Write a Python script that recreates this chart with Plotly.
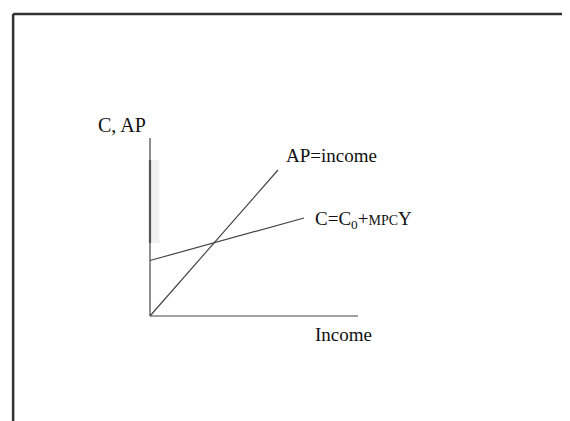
import plotly.graph_objects as go

# Economic diagram data (abstract units; origin at the axes corner)
income_axis_x = [0, 10]
income_axis_y = [0, 0]
vert_axis_x = [0, 0]
vert_axis_y = [0, 8.56]
shade_y = [3.51, 7.5]          # darker/shaded part of the vertical axis
ap_x = [0, 6.154]              # AP = income
ap_y = [0, 7.019]
c_x = [0, 7.404]               # C = C0 + MPC*Y
c_y = [2.668, 4.712]

labels_text = ["C, AP", "AP=income",
               "C=C<sub>0</sub>+<span style='font-size:14px'>MPC</span>Y",
               "Income"]
labels_x = [-1.35, 6.44, 7.84, 7.84]
labels_y = [9.18, 7.74, 4.615, -0.913]
labels_anchor = ["center", "left", "left", "left"]
labels_size = [20, 19, 19, 19]

W, H = 570, 421
ox, oy, s = 142, 308, 20.8
xr = [-ox / s, (W - ox) / s]
yr = [(oy - H) / s, oy / s]

line_col = "#444444"
fig = go.Figure()

# light gray band beside the vertical axis
fig.add_trace(go.Scatter(x=[0, 0.45, 0.45, 0, 0],
                         y=[shade_y[0], shade_y[0], shade_y[1], shade_y[1], shade_y[0]],
                         fill="toself", fillcolor="rgba(200,200,200,0.25)",
                         line=dict(width=0), mode="lines", hoverinfo="skip"))
fig.add_trace(go.Scatter(x=vert_axis_x, y=vert_axis_y, mode="lines",
                         line=dict(color=line_col, width=1.2)))
fig.add_trace(go.Scatter(x=[0, 0], y=shade_y, mode="lines",
                         line=dict(color="#555555", width=2.2)))
fig.add_trace(go.Scatter(x=income_axis_x, y=income_axis_y, mode="lines",
                         line=dict(color=line_col, width=1.2)))
fig.add_trace(go.Scatter(x=ap_x, y=ap_y, mode="lines",
                         line=dict(color=line_col, width=1.2)))
fig.add_trace(go.Scatter(x=c_x, y=c_y, mode="lines",
                         line=dict(color=line_col, width=1.2)))

for t, x, y, a, sz in zip(labels_text, labels_x, labels_y, labels_anchor, labels_size):
    fig.add_annotation(x=x, y=y, text=t, showarrow=False, xanchor=a, yanchor="middle",
                       font=dict(family="Liberation Serif", size=sz, color="#111111"))

# slide frame
fig.add_shape(type="line", xref="paper", yref="paper", x0=0.009, x1=1, y0=1 - 6 / H, y1=1 - 6 / H,
              line=dict(color="#333333", width=2.5))
fig.add_shape(type="line", xref="paper", yref="paper", x0=0.009, x1=0.009, y0=0, y1=1 - 6 / H,
              line=dict(color="#333333", width=2.5))
fig.add_shape(type="line", xref="paper", yref="paper", x0=0.998, x1=0.998, y0=0, y1=0.38,
              line=dict(color="#aaaaaa", width=1, dash="dot"))

fig.update_layout(width=W, height=H, margin=dict(l=0, r=0, t=0, b=0),
                  showlegend=False, plot_bgcolor="white", paper_bgcolor="white",
                  xaxis=dict(range=xr, visible=False, fixedrange=True),
                  yaxis=dict(range=yr, visible=False, fixedrange=True))
fig.write_html("out.html")
